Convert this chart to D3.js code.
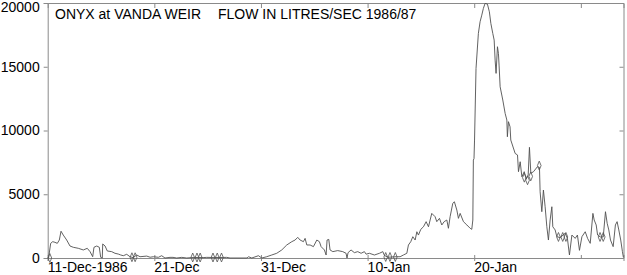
<!DOCTYPE html>
<html><head><meta charset="utf-8">
<script src="https://cdn.jsdelivr.net/npm/d3@7"></script>
<style>
html,body{margin:0;padding:0;background:#fff;}
svg{display:block;font-family:"Liberation Sans",Arial,sans-serif;}
</style></head>
<body><svg id="c" width="627" height="275"></svg>
<script>
// ---- data ----
const startDate = "1986-12-11";
const endDate = "1987-02-03";
// time as days after 11-Dec-1986 00:00, flow in litres/sec
const dayOffset = [0.00,0.08,0.28,0.47,0.68,0.90,1.09,1.25,1.46,1.78,2.09,2.40,2.87,3.34,3.71,3.97,4.22,4.34,4.60,4.84,4.97,5.12,5.16,5.38,5.59,6.00,6.31,6.62,6.85,7.09,7.41,7.72,8.00,8.35,8.66,9.29,9.60,9.91,10.38,10.69,11.00,11.47,11.75,12.10,12.57,13.04,13.63,14.29,14.57,14.92,15.51,16.35,16.79,17.10,18.70,18.82,19.14,19.76,20.08,20.54,21.01,21.48,21.95,22.42,22.89,23.20,23.45,23.67,23.98,24.14,24.30,24.61,24.92,25.24,25.48,25.64,25.95,26.11,26.20,26.36,26.48,26.74,27.20,27.67,27.98,28.07,28.17,28.45,28.76,29.08,29.39,29.70,29.86,30.17,30.64,31.11,31.43,31.58,31.92,32.30,32.67,33.05,33.36,33.68,33.83,34.05,34.24,34.46,34.62,34.77,34.99,35.24,35.49,35.71,36.02,36.33,36.49,36.74,36.96,37.18,37.43,37.58,37.74,37.99,38.14,38.37,38.52,38.68,38.99,39.31,39.62,39.77,39.87,39.92,39.98,40.03,40.17,40.39,40.55,40.71,40.86,41.02,41.24,41.42,41.56,41.74,41.87,41.96,42.05,42.18,42.27,42.33,42.43,42.68,42.90,43.06,43.11,43.21,43.36,43.43,43.84,44.06,44.15,44.31,44.47,44.69,44.87,45.06,45.18,45.31,45.56,45.93,46.12,46.18,46.34,46.49,46.65,46.81,46.96,47.12,47.28,47.37,47.59,47.75,48.06,48.53,48.74,48.93,49.16,49.47,49.68,49.87,50.10,50.41,50.63,50.88,51.13,51.25,51.44,51.57,51.82,52.10,52.31,52.47,52.62,52.78,53.03,53.24,53.40,53.56,53.74,53.90,53.99];
const flow = [0,0,1150,1280,1230,1150,1410,2100,1800,1410,940,840,760,630,760,500,100,840,940,840,55,0,1100,940,550,500,370,310,235,180,290,100,30,235,100,150,60,100,55,180,0,50,50,0,50,0,40,40,30,50,40,40,50,0,0,100,0,180,0,100,235,370,630,1020,1280,1410,1620,1410,1280,1540,1020,1020,890,1410,1280,890,630,235,1410,1460,630,500,580,500,370,0,420,630,420,500,370,500,300,370,235,370,500,200,60,80,100,100,235,370,1020,1280,1670,1410,2060,1800,2250,2450,2850,2450,3500,3240,2850,3110,2590,2850,2980,2330,3240,4290,4410,3760,3110,3500,2850,2590,2330,2250,2980,7680,7800,9250,14870,17620,18530,19050,19580,19970,19910,19310,18400,17620,17090,15520,14480,16570,16050,15130,13430,12390,11340,10820,9510,10690,10290,9250,8200,8080,6770,7550,6370,6770,6200,6500,8680,6640,6770,7160,7100,5200,3630,5330,4020,2450,1410,2980,4020,2450,2200,1670,1600,1940,1540,235,1800,1540,1800,600,1670,2060,1540,1150,3500,2980,2590,1800,1650,1650,3630,2720,2200,1410,890,2590,2850,2200,1410,500,50];
// flagged readings drawn as small diamonds
const markDay = [0.2,7.9,8.2,13.6,14.0,14.3,15.5,15.9,16.3,31.7,32.1,32.6,44.7,45.0,45.3,46.1,47.9,48.3,48.6,51.8,52.1];
const markFlow = [0,60,60,40,40,40,40,40,40,80,80,80,6300,6100,6400,7250,1650,1650,1650,1650,1650];
const yTicks = [0,5000,10000,15000,20000];
const xTickDates = ["1986-12-21","1986-12-31","1987-01-10","1987-01-20","1987-01-30"];
const xLabelDates = ["1986-12-11","1986-12-21","1986-12-31","1987-01-10","1987-01-20"];
const xLabels = ["11-Dec-1986","21-Dec","31-Dec","10-Jan","20-Jan"];
const titleA = "ONYX at VANDA WEIR";
const titleB = "FLOW IN LITRES/SEC 1986/87";

// ---- chart ----
const svg = d3.select("#c");
const L = 47.7, R = 623.5, T = 3, B = 258;
const parse = d3.utcParse("%Y-%m-%d");
const t0 = parse(startDate);
const x = d3.scaleUtc().domain([t0, parse(endDate)]).range([L, R]);
const y = d3.scaleLinear().domain([0, 20000]).range([B, T]);
const toDate = d => new Date(t0.getTime() + d * 864e5);
const axisCol = "#8a8a8a";

function style(g){
  g.select(".domain").attr("stroke", axisCol).attr("stroke-width",1);
  g.selectAll(".tick line").attr("stroke", axisCol);
  g.selectAll("text").attr("fill","#000").attr("font-size","14px").attr("font-family",'"Liberation Sans",Arial,sans-serif');
}
// frame + ticks
const gTop = svg.append("g").attr("transform",`translate(0,${T})`)
  .call(d3.axisBottom(x).tickValues(xTickDates.map(parse)).tickSize(5).tickFormat(""));
style(gTop);
const gRight = svg.append("g").attr("transform",`translate(${R},0)`)
  .call(d3.axisLeft(y).tickValues(yTicks).tickSize(4).tickFormat(""));
style(gRight);
const gBotUp = svg.append("g").attr("transform",`translate(0,${B})`)
  .call(d3.axisTop(x).tickValues(xTickDates.map(parse)).tickSize(3).tickFormat(""));
style(gBotUp);
const gBot = svg.append("g").attr("transform",`translate(0,${B})`)
  .call(d3.axisBottom(x).tickValues(xLabelDates.map(parse)).tickSize(3)
     .tickFormat((d,i)=>xLabels[i]));
style(gBot);
gBot.selectAll("text").attr("text-anchor","start").attr("y",4).attr("dy","0.71em").attr("x",-0.5);
const gLeft = svg.append("g").attr("transform",`translate(${L},0)`)
  .call(d3.axisLeft(y).tickValues(yTicks).tickSize(4).tickPadding(4).tickFormat(d3.format("d")));
style(gLeft);
gLeft.selectAll(".tick text").attr("dy", d => d===20000 ? "0.9em" : "0.32em")
  .attr("y", d => d===20000 ? -4 : 0);

// line
const line = d3.line().x((d,i)=>x(toDate(dayOffset[i]))).y((d,i)=>y(flow[i]));
svg.append("path").datum(flow).attr("d", line)
  .attr("fill","none").attr("stroke","#505050").attr("stroke-width",0.9);

// markers
svg.append("g").selectAll("path").data(markDay).join("path")
  .attr("transform",(d,i)=>`translate(${x(toDate(d))},${y(markFlow[i])}) scale(0.85,1.2)`)
  .attr("d", d3.symbol().type(d3.symbolDiamond).size(16))
  .attr("fill","none").attr("stroke","#555").attr("stroke-width",0.8);

// title
svg.append("text").attr("x",55).attr("y",19).attr("font-size","14px").attr("fill","#000").text(titleA);
svg.append("text").attr("x",218).attr("y",19).attr("font-size","14px").attr("fill","#000").text(titleB);
</script></body></html>
